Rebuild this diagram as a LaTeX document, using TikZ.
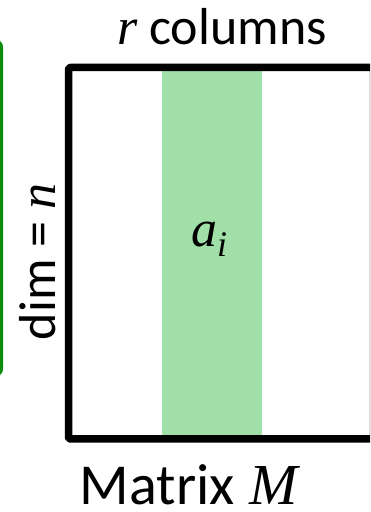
\documentclass[tikz,border=0pt]{standalone}
\usepackage{fontspec}
\setmainfont{Carlito}
\newfontfamily\varitfont{Liberation Serif}[UprightFont=* Italic]
\definecolor{colgreen}{RGB}{160,224,168}
\definecolor{framegreen}{RGB}{10,140,10}
\tikzset{
  lbl/.style={inner sep=0pt, font=\fontsize{52}{62}\selectfont},
  matframe/.style={draw=black, line width=7.5pt, line join=round, outer sep=0pt},
}
\newcommand{\mv}[1]{{\varitfont #1}}
\begin{document}
\begin{tikzpicture}[x=1pt,y=1pt]
\useasboundingbox (0,0) rectangle (370,512);
\clip (0,0) rectangle (370,512);
% green frame (clipped at left)
\draw[framegreen, line width=3pt, rounded corners=6pt] (-200,471) rectangle (1.5,137);
% green column
\fill[colgreen] (162,73) rectangle (262,441);
% matrix frame
\node[matframe, minimum width=305pt, minimum height=371.5pt, inner sep=0pt, anchor=north west, rounded corners=2pt] (mat) at (68.5,444.5) {};
% labels
\node[lbl, anchor=base] (cols) at (222,467) {\mv{r} columns};
\node[lbl, anchor=base, font=\fontsize{58}{68}\selectfont] (name) at (189,8) {Matrix \mv{\kern2pt M}};
\node[lbl, anchor=base, rotate=90] (dim) at (55,250) {dim = \mv{n}};
\node[lbl, anchor=base] (ai) at (209,265) {\mv{a}\raisebox{-10pt}{\fontsize{36}{40}\selectfont\mv{i}}};
\end{tikzpicture}
\end{document}
